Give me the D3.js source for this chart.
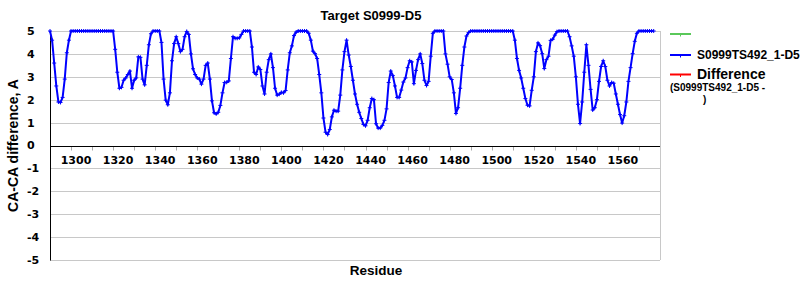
<!DOCTYPE html>
<html>
<head>
<meta charset="utf-8">
<script src="https://cdn.jsdelivr.net/npm/d3@7"></script>
<style>
	body { margin: 0; background: #fff; }
	svg { display: block; }
</style>
</head>
<body>
<div id="chart"></div>
<script>
var padding = {
	left: 50,
	top: 31,
	right: 140,
	bottom: 40
};
var width = 800,
	height = 300;

var title = 'Target S0999-D5';
var modelName = 'S0999TS492_1-D5';
var firstResidue = 1290;
// CA-CA difference per residue, capped at 5
var distValues = [
	5, 4.6, 3.6, 2.6, 1.9, 1.88, 2.1, 2.9, 4.05, 4.6,
	5, 5, 5, 5, 5, 5, 5, 5, 5, 5,
	5, 5, 5, 5, 5, 5, 5, 5, 5, 5,
	5, 4.2, 3.2, 2.5, 2.54, 2.85, 2.95, 3.1, 3.25, 2.5,
	2.85, 2.95, 3.87, 3.85, 2.9, 2.65, 3.5, 4.4, 4.88, 5,
	5, 5, 5, 4.5, 2.9, 1.98, 1.78, 2.3, 3.7, 4.45,
	4.75, 4.45, 4.1, 4.2, 4.75, 4.98, 4.85, 4.0, 3.35, 3.1,
	2.95, 2.9, 2.68, 2.9, 3.5, 3.6, 2.9, 1.95, 1.43, 1.38,
	1.45, 1.75, 2.3, 2.75, 2.76, 2.82, 3.8, 4.75, 4.68, 4.68,
	4.7, 4.85, 5, 5, 5, 5, 4.3, 3.2, 3.1, 3.43,
	3.32, 2.6, 2.25, 3.2, 3.75, 4.0, 3.4, 2.5, 2.2, 2.24,
	2.32, 2.3, 2.4, 3.3, 4.05, 4.35, 4.8, 4.95, 5, 5,
	5, 5, 5, 4.9, 4.6, 4.12, 4.01, 3.8, 3.1, 2.3,
	1.2, 0.58, 0.48, 0.7, 1.25, 1.54, 1.5, 1.5, 2.2, 3.3,
	4.1, 4.6, 3.95, 3.45, 2.85, 2.25, 1.8, 1.45, 1.18, 0.92,
	0.86, 1.1, 1.65, 2.05, 2.0, 0.95, 0.76, 0.76, 0.88, 1.1,
	1.6, 2.75, 3.25, 3.05, 2.6, 2.1, 2.1, 2.42, 2.77, 2.95,
	3.4, 3.7, 3.65, 2.7, 3.28, 3.75, 4.0, 3.58, 2.85, 2.62,
	2.8, 3.9, 4.9, 5, 5, 5, 5, 5, 4.0, 3.55,
	3.0, 2.88, 2.3, 1.4, 1.65, 2.5, 3.5, 4.3, 4.78, 4.93,
	5, 5, 5, 5, 5, 5, 5, 5, 5, 5,
	5, 5, 5, 5, 5, 5, 5, 5, 5, 5,
	5, 4.6, 3.8, 3.28, 2.95, 2.5, 2.05, 1.76, 1.73, 2.41,
	3.0, 4.1, 4.48, 4.36, 4.01, 3.36, 3.75, 3.9, 4.59, 4.64,
	4.82, 4.97, 5, 5, 5, 5, 5, 4.75, 4.35, 3.9,
	3.0, 1.8, 0.96, 1.9, 3.2, 4.4, 3.5, 2.45, 1.55, 1.65,
	2.0, 2.8, 3.45, 3.7, 3.45, 2.85, 2.6, 2.75, 2.72, 2.25,
	1.8, 1.35, 0.98, 1.3, 1.9, 2.8, 3.4, 4.01, 4.55, 4.9,
	5, 5, 5, 5, 5, 5, 5, 5
];
var xDomain = [1290, 1580];
var xTicks = d3.range(1300, 1580, 10);
var xLabels = d3.range(1300, 1580, 20);
var yTicks = [5, 4, 3, 2, 1, 0, -1, -2, -3, -4, -5];

var legendItems = [
	{ color: '#5ac85a', label: '' },
	{ color: '#0000ff', label: modelName },
	{ color: '#ff0000', label: 'Difference' }
];

var plot_width = width - padding.left - padding.right;
var plot_height = height - padding.top - padding.bottom;

var points = distValues.map(function (v, i) {
	return { residue: firstResidue + i, value: v };
});

var xScale = d3.scaleLinear()
	.domain(xDomain)
	.range([padding.left, padding.left + plot_width]);
var yScale = d3.scaleLinear()
	.domain([-5, 5])
	.range([padding.top + plot_height, padding.top]);

var svg = d3.select('#chart').append('svg')
	.attr('width', width)
	.attr('height', height);

// grid lines
svg.append('g')
	.selectAll('line')
	.data(yTicks.filter(d => d != 0))
	.enter()
	.append('line')
	.attr('x1', xScale(xDomain[0]))
	.attr('x2', xScale(xDomain[1]))
	.attr('y1', d => Math.round(yScale(d)) + 0.5)
	.attr('y2', d => Math.round(yScale(d)) + 0.5)
	.attr('stroke', '#c8c8c8')
	.attr('stroke-width', 1);

// right border
svg.append('line')
	.attr('x1', Math.round(xScale(xDomain[1])) + 0.5)
	.attr('x2', Math.round(xScale(xDomain[1])) + 0.5)
	.attr('y1', yScale(5))
	.attr('y2', yScale(-5))
	.attr('stroke', '#c8c8c8');

// y tick labels
svg.append('g')
	.selectAll('text')
	.data(yTicks)
	.enter()
	.append('text')
	.attr('x', 27)
	.attr('y', d => yScale(d))
	.attr('dy', '0.36em')
	.style('font-family', 'DejaVu Sans')
	.style('font-weight', 'bold')
	.style('font-size', '11px')
	.text(d => d < 0 ? '-' + Math.abs(d) : d);

// x axis at zero
var zeroY = Math.round(yScale(0)) + 0.5;
svg.append('g')
	.selectAll('line')
	.data(xTicks)
	.enter()
	.append('line')
	.attr('x1', d => Math.round(xScale(d)) + 0.5)
	.attr('x2', d => Math.round(xScale(d)) + 0.5)
	.attr('y1', zeroY)
	.attr('y2', zeroY + 4)
	.attr('stroke', '#aaaaaa');

svg.append('g')
	.selectAll('text')
	.data(xLabels)
	.enter()
	.append('text')
	.attr('x', d => xScale(d) + 5)
	.attr('y', zeroY + 17)
	.attr('text-anchor', 'middle')
	.style('font-family', 'DejaVu Sans')
	.style('font-weight', 'bold')
	.style('font-size', '11px')
	.text(String);

svg.append('line')
	.attr('x1', xScale(xDomain[0]))
	.attr('x2', xScale(xDomain[1]))
	.attr('y1', zeroY)
	.attr('y2', zeroY)
	.attr('stroke', '#000')
	.attr('stroke-width', 1);

// y axis line
svg.append('line')
	.attr('x1', Math.round(xScale(xDomain[0])) + 0.5)
	.attr('x2', Math.round(xScale(xDomain[0])) + 0.5)
	.attr('y1', yScale(5))
	.attr('y2', yScale(-5) + 0.5)
	.attr('stroke', '#000');

// model line
var line = d3.line()
	.x(d => xScale(d.residue))
	.y(d => yScale(d.value));

svg.append('path')
	.datum(points)
	.attr('d', line)
	.attr('fill', 'none')
	.attr('stroke', '#0000ff')
	.attr('stroke-width', 2)
	.attr('stroke-linejoin', 'round');

svg.append('g')
	.selectAll('path')
	.data(points)
	.enter()
	.append('path')
	.attr('d', d => {
		let x = xScale(d.residue),
			y = yScale(d.value);
		return 'M' + (x - 2) + ',' + y + 'H' + (x + 2) + 'M' + x + ',' + (y - 2) + 'V' + (y + 2);
	})
	.attr('stroke', '#0000ff')
	.attr('stroke-width', 1);

// titles
svg.append('text')
	.attr('x', 371)
	.attr('y', 20)
	.attr('text-anchor', 'middle')
	.style('font-family', 'Liberation Sans')
	.style('font-weight', 'bold')
	.style('font-size', '13px')
	.text(title);

svg.append('text')
	.attr('transform', 'translate(18,' + (yScale(0)) + ') rotate(-90)')
	.attr('text-anchor', 'middle')
	.style('font-family', 'Liberation Sans')
	.style('font-weight', 'bold')
	.style('font-size', '14px')
	.text('CA-CA difference, A');

svg.append('text')
	.attr('x', 376)
	.attr('y', 275)
	.attr('text-anchor', 'middle')
	.style('font-family', 'Liberation Sans')
	.style('font-weight', 'bold')
	.style('font-size', '13.5px')
	.text('Residue');

// legend
var legendY = [34, 55, 74.5];
var legend = svg.append('g')
	.selectAll('g')
	.data(legendItems)
	.enter()
	.append('g')
	.attr('transform', (d, i) => 'translate(670,' + legendY[i] + ')');

legend.append('line')
	.attr('x1', 0)
	.attr('x2', 21)
	.attr('stroke', d => d.color)
	.attr('stroke-width', 2);
legend.append('line')
	.attr('x1', 10.5)
	.attr('x2', 10.5)
	.attr('y1', 0)
	.attr('y2', 2.5)
	.attr('stroke', d => d.color)
	.attr('stroke-width', 1);

legend.append('text')
	.attr('x', 27)
	.attr('y', (d, i) => i == 2 ? 4.5 : 4)
	.style('font-family', 'Liberation Sans')
	.style('font-weight', 'bold')
	.style('font-size', (d, i) => i == 2 ? '14px' : '12px')
	.text(d => d.label);

svg.append('text')
	.attr('x', 670)
	.attr('y', 90.5)
	.style('font-family', 'Liberation Sans')
	.style('font-weight', 'bold')
	.style('font-size', '10px')
	.text('(' + modelName + ' -');
svg.append('text')
	.attr('x', 703)
	.attr('y', 103)
	.style('font-family', 'Liberation Sans')
	.style('font-weight', 'bold')
	.style('font-size', '10px')
	.text(')');
</script>
</body>
</html>
